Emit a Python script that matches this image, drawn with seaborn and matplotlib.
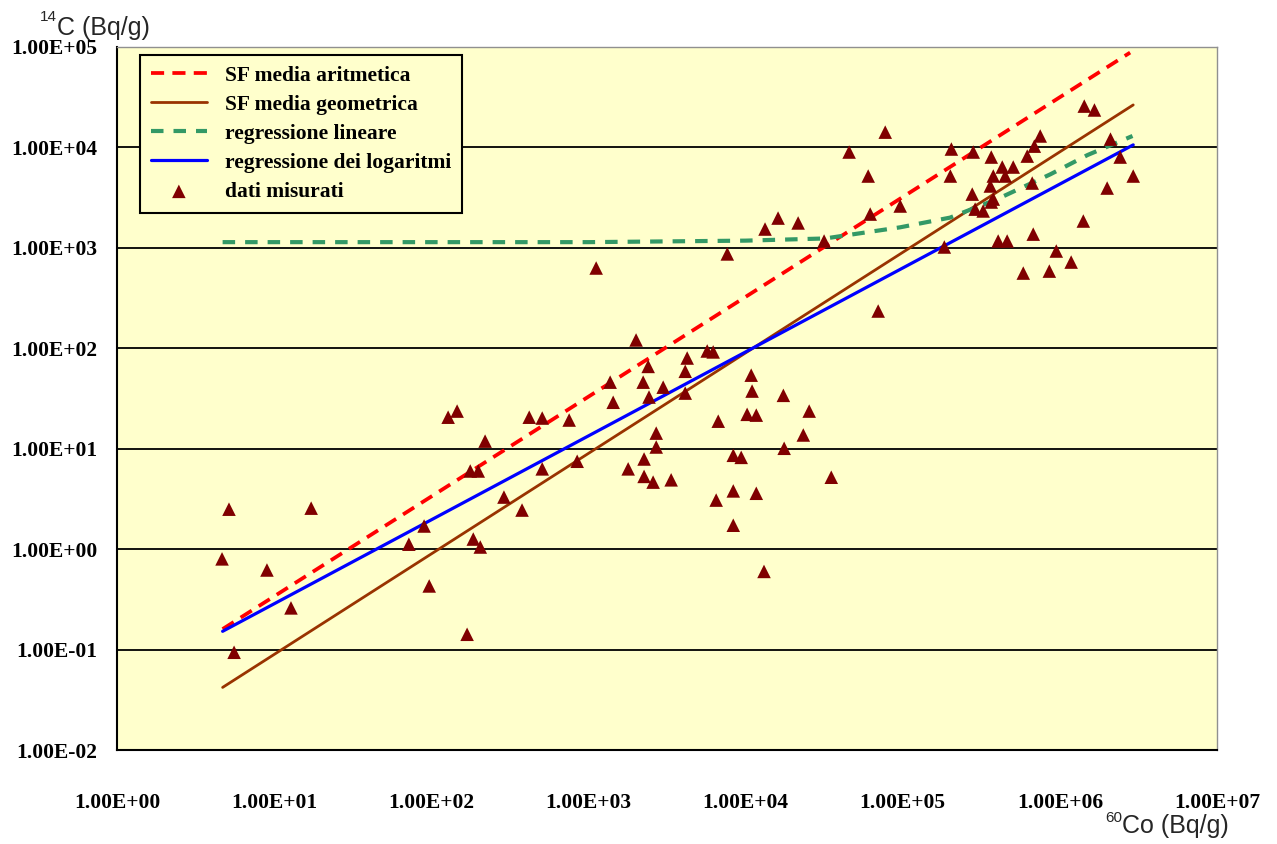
import numpy as np
import pandas as pd
import matplotlib
matplotlib.use("Agg")
import matplotlib.pyplot as plt
import seaborn as sns
from matplotlib.font_manager import FontProperties
from matplotlib.ticker import FixedLocator, NullLocator

# ---------------- data ----------------
co60 = [4.66, 5.16, 5.56, 9.0, 12.8, 17.2, 72, 90, 97, 128,
        146, 169, 177, 199, 185, 205, 220, 290, 378, 420,
        508, 508, 754, 848, 1120, 1375, 1437, 1790, 2010, 2230,
        2400, 2430, 2260, 2260, 2580, 2700, 2700, 2990, 3360, 4130,
        4130, 4250, 5700, 6220, 6500, 6700, 7650, 8350, 8350, 8350,
        9380, 10230, 10860, 11000, 11700, 11700, 13100, 13300, 16100, 17400,
        17600, 21600, 23300, 25400, 31600, 35100, 45600, 60300, 62100, 69800,
        77400, 96400, 184000, 204000, 201000, 281000, 277000, 289000, 325000, 366000,
        366000, 361000, 377000, 377000, 405000, 430000, 449000, 462000, 505000, 585000,
        620000, 667000, 677000, 688000, 750000, 857000, 949000, 1.18e6, 1.41e6, 1.43e6,
        1.66e6, 2.0e6, 2.1e6, 2.42e6, 2.93e6]
c14 = [0.80, 2.5, 0.094, 0.62, 0.26, 2.56, 1.12, 1.7, 0.43, 20.6,
       23.7, 0.142, 6.0, 6.0, 1.26, 1.05, 11.9, 3.3, 2.45, 20.6,
       20.2, 6.3, 19.3, 7.5, 630, 46, 29, 6.3, 121, 46,
       66, 32.7, 7.9, 5.3, 4.65, 14.3, 10.4, 41, 4.9, 59,
       35.8, 80, 94, 92, 3.08, 18.8, 870, 3.8, 1.73, 8.6,
       8.2, 22, 54, 37.5, 21.6, 3.6, 0.60, 1540, 1980, 34,
       10.1, 1770, 13.7, 23.7, 1170, 5.2, 9000, 5190, 2170, 235,
       14200, 2610, 1020, 9640, 5190, 9000, 3430, 2430, 2330, 8020,
       2860, 4130, 5190, 3060, 1170, 6380, 5190, 1170, 6380, 561,
       8200, 4420, 1370, 10300, 13000, 587, 930, 722, 1850, 25800,
       23600, 3940, 12100, 8020, 5190]

sf_arit_x = [4.7, 2.8e6]
sf_arit_y = [0.16, 88000]
sf_geom_x = [4.7, 2.93e6]
sf_geom_y = [0.042, 26500]
reg_lin_x = [4.7, 1.0e3, 1.0e4, 3.2e4, 9.6e4, 2.0e5, 4.0e5, 8.7e5, 1.5e6, 2.9e6]
reg_lin_y = [1140, 1140, 1180, 1240, 1600, 2000, 3060, 5400, 8400, 13000]
reg_log_x = [4.7, 2.93e6]
reg_log_y = [0.152, 10600]

y_ticks = [1e-2, 1e-1, 1e0, 1e1, 1e2, 1e3, 1e4, 1e5]
y_tick_labels = ["1.00E-02", "1.00E-01", "1.00E+00", "1.00E+01",
                 "1.00E+02", "1.00E+03", "1.00E+04", "1.00E+05"]
x_ticks = [1e0, 1e1, 1e2, 1e3, 1e4, 1e5, 1e6, 1e7]
x_tick_labels = ["1.00E+00", "1.00E+01", "1.00E+02", "1.00E+03",
                 "1.00E+04", "1.00E+05", "1.00E+06", "1.00E+07"]

labels = ["SF media aritmetica", "SF media geometrica", "regressione lineare",
          "regressione dei logaritmi", "dati misurati"]

# ---------------- figure ----------------
sns.set_style("white")
plt.rcParams["font.family"] = ["Liberation Sans", "DejaVu Sans"]

fig = plt.figure(figsize=(12.77, 8.44), dpi=100)
fig.patch.set_facecolor("white")
ax = fig.add_axes([117 / 1277, 1 - 750 / 844, 1100 / 1277, 703 / 844])
ax.set_facecolor("#FFFFCC")
ax.set_xscale("log")
ax.set_yscale("log")

pts = pd.DataFrame({"co60": co60, "c14": c14})

sns.lineplot(x=sf_arit_x, y=sf_arit_y, ax=ax, color="#FF0000", linewidth=2.7,
             linestyle=(0, (3.5, 2.2)), label=labels[0], zorder=3)
sns.lineplot(x=sf_geom_x, y=sf_geom_y, ax=ax, color="#993300", linewidth=2.0,
             label=labels[1], zorder=3)
sns.lineplot(x=reg_lin_x, y=reg_lin_y, ax=ax, color="#339966", linewidth=3.0,
             linestyle=(0, (3.0, 2.4)), label=labels[2], zorder=3)
sns.lineplot(x=reg_log_x, y=reg_log_y, ax=ax, color="#0000FF", linewidth=2.3,
             label=labels[3], zorder=3)
sns.scatterplot(data=pts, x="co60", y="c14", ax=ax, marker="^", s=95,
                color="#800000", edgecolor="none", linewidth=0,
                label=labels[4], zorder=4)

ax.set_xlim(1e0, 1e7)
ax.set_ylim(1e-2, 1e5)
ax.xaxis.set_major_locator(FixedLocator(x_ticks))
ax.yaxis.set_major_locator(FixedLocator(y_ticks))
ax.xaxis.set_minor_locator(NullLocator())
ax.yaxis.set_minor_locator(NullLocator())
tick_font = FontProperties(family="Liberation Serif", weight="bold", size=15.5)
ax.set_xticklabels(x_tick_labels, fontproperties=tick_font)
ax.set_yticklabels(y_tick_labels, fontproperties=tick_font)
ax.tick_params(axis="both", which="major", direction="out", length=6,
               width=1.3, color="black", labelcolor="black")
ax.tick_params(axis="x", pad=25)
ax.tick_params(axis="y", pad=8)
ax.set_xlabel("")
ax.set_ylabel("")

# horizontal grid lines
ax.grid(False)
for yv in y_ticks[1:-1]:
    ax.axhline(yv, color="black", linewidth=1.3, zorder=1)

for side in ["left", "bottom"]:
    ax.spines[side].set_color("black")
    ax.spines[side].set_linewidth(1.5)
for side in ["top", "right"]:
    ax.spines[side].set_color("#909090")
    ax.spines[side].set_linewidth(1.0)

# legend in reference order
handles, labs = ax.get_legend_handles_labels()
hmap = dict(zip(labs, handles))
leg = ax.legend([hmap[l] for l in labels], labels, loc="upper left",
                bbox_to_anchor=(0.021, 0.989), borderaxespad=0,
                prop=FontProperties(family="Liberation Serif", weight="bold", size=15.5),
                frameon=True, fancybox=False, edgecolor="black",
                facecolor="#FFFFCC", framealpha=1, handlelength=2.6,
                handletextpad=0.85, labelspacing=0.42, borderpad=0.5)
leg.get_frame().set_linewidth(1.5)
for t in leg.get_texts():
    t.set_color("black")

# axis titles
fig.text(40 / 1277, 1 - 21 / 844, "14", fontsize=11, ha="left", va="baseline",
         family="Liberation Sans")
fig.text(57 / 1277, 1 - 35 / 844, "C (Bq/g)", fontsize=18, ha="left", va="baseline",
         family="Liberation Sans")
fig.text(1105 / 1277, 1 - 822 / 844, "60", fontsize=11, ha="left", va="baseline",
         family="Liberation Sans")
fig.text(1122 / 1277, 1 - 833 / 844, "Co (Bq/g)", fontsize=18, ha="left", va="baseline",
         family="Liberation Sans")

fig.savefig("out.png", dpi=100)
